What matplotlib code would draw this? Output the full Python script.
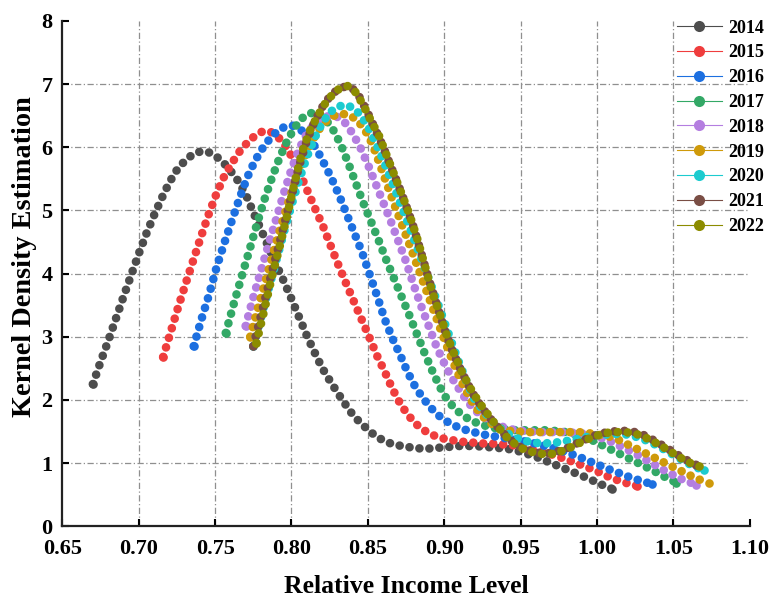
import numpy as np
import matplotlib
matplotlib.use("Agg")
import matplotlib.pyplot as plt
from matplotlib.lines import Line2D

plt.rcParams['font.family'] = ['Liberation Serif', 'DejaVu Serif']
plt.rcParams['font.weight'] = 'bold'

years = ["2014", "2015", "2016", "2017", "2018", "2019", "2020", "2021", "2022"]
colors = ["#4d4d4d", "#ef3d3d", "#1c6fe0", "#33a866", "#b47ee0",
          "#cf9a0a", "#1ccbcf", "#7a4e45", "#8c8c00"]
step = 0.005

x0_2014 = 0.670
kde_2014 = [2.25, 2.60, 2.93, 3.28, 3.63, 3.97, 4.31, 4.63, 4.92, 5.19, 5.44, 5.64,
            5.78, 5.88, 5.93, 5.93, 5.87, 5.77, 5.63, 5.47, 5.26, 4.97, 4.70, 4.42,
            4.14, 3.88, 3.60, 3.31, 3.02, 2.76, 2.51, 2.31, 2.12, 1.94, 1.77, 1.64,
            1.53, 1.43, 1.36, 1.31, 1.28, 1.26, 1.24, 1.23, 1.23, 1.24, 1.25, 1.26,
            1.27, 1.27, 1.27, 1.26, 1.25, 1.24, 1.23, 1.21, 1.18, 1.14, 1.10, 1.05,
            1.00, 0.95, 0.90, 0.85, 0.80, 0.75, 0.69, 0.64, 0.59]

x0_2015 = 0.716
kde_2015 = [2.68, 3.08, 3.48, 3.86, 4.23, 4.60, 4.95, 5.27, 5.54, 5.75, 5.93, 6.07,
            6.18, 6.25, 6.25, 6.17, 6.02, 5.82, 5.56, 5.28, 5.00, 4.73, 4.42, 4.12,
            3.83, 3.55, 3.27, 2.99, 2.70, 2.45, 2.18, 1.95, 1.77, 1.63, 1.53, 1.46,
            1.41, 1.38, 1.36, 1.34, 1.33, 1.32, 1.31, 1.31, 1.30, 1.29, 1.28, 1.26,
            1.23, 1.20, 1.17, 1.13, 1.09, 1.05, 1.00, 0.96, 0.91, 0.86, 0.80, 0.75,
            0.71, 0.67, 0.64]

x0_2016 = 0.736
kde_2016 = [2.85, 3.27, 3.66, 4.10, 4.48, 4.84, 5.19, 5.52, 5.78, 5.98, 6.14, 6.26,
            6.33, 6.34, 6.28, 6.16, 5.99, 5.76, 5.52, 5.25, 4.95, 4.65, 4.35, 4.00,
            3.65, 3.28, 2.98, 2.72, 2.44, 2.21, 2.03, 1.88, 1.76, 1.67, 1.60, 1.55,
            1.51, 1.48, 1.45, 1.43, 1.41, 1.39, 1.37, 1.35, 1.33, 1.30, 1.27, 1.24,
            1.20, 1.16, 1.12, 1.07, 1.02, 0.97, 0.92, 0.87, 0.83, 0.78, 0.74, 0.70,
            0.67]

x0_2017 = 0.757
kde_2017 = [3.06, 3.50, 3.92, 4.33, 4.75, 5.15, 5.50, 5.82, 6.09, 6.31, 6.46, 6.54,
            6.54, 6.45, 6.29, 6.06, 5.76, 5.44, 5.12, 4.83, 4.53, 4.22, 3.93, 3.64,
            3.35, 3.05, 2.75, 2.47, 2.21, 2.00, 1.86, 1.76, 1.68, 1.63, 1.59, 1.56,
            1.54, 1.53, 1.52, 1.52, 1.52, 1.52, 1.52, 1.51, 1.50, 1.48, 1.45, 1.41,
            1.36, 1.30, 1.24, 1.18, 1.12, 1.06, 1.00, 0.94, 0.88, 0.81, 0.75, 0.69]

x0_2018 = 0.770
kde_2018 = [3.17, 3.62, 4.04, 4.46, 4.86, 5.27, 5.65, 5.97, 6.21, 6.37, 6.46, 6.50,
            6.48, 6.39, 6.22, 6.00, 5.73, 5.43, 5.13, 4.83, 4.51, 4.19, 3.82, 3.48,
            3.16, 2.84, 2.58, 2.35, 2.16, 1.98, 1.84, 1.74, 1.66, 1.60, 1.56, 1.53,
            1.51, 1.50, 1.49, 1.49, 1.49, 1.49, 1.49, 1.48, 1.47, 1.45, 1.42, 1.38,
            1.33, 1.27, 1.21, 1.15, 1.08, 1.01, 0.94, 0.87, 0.81, 0.75, 0.70, 0.66]

x0_2019 = 0.773
kde_2019 = [3.00, 3.45, 3.88, 4.32, 4.74, 5.13, 5.50, 5.82, 6.08, 6.28, 6.42, 6.50,
            6.53, 6.51, 6.43, 6.28, 6.05, 5.72, 5.38, 5.05, 4.73, 4.41, 4.08, 3.75,
            3.42, 3.09, 2.77, 2.47, 2.20, 1.98, 1.80, 1.67, 1.59, 1.54, 1.51, 1.50,
            1.49, 1.49, 1.49, 1.49, 1.49, 1.49, 1.49, 1.49, 1.48, 1.46, 1.44, 1.42,
            1.38, 1.32, 1.26, 1.20, 1.14, 1.08, 1.02, 0.96, 0.90, 0.84, 0.78, 0.73,
            0.68]

x0_2020 = 0.775
kde_2020 = [2.85, 3.30, 3.75, 4.20, 4.65, 5.08, 5.48, 5.84, 6.14, 6.38, 6.55, 6.64,
            6.67, 6.63, 6.52, 6.33, 6.08, 5.80, 5.50, 5.19, 4.88, 4.56, 4.24, 3.91,
            3.58, 3.24, 2.90, 2.57, 2.27, 2.00, 1.85, 1.70, 1.58, 1.49, 1.42, 1.37,
            1.34, 1.32, 1.31, 1.32, 1.33, 1.35, 1.37, 1.40, 1.42, 1.44, 1.45, 1.46,
            1.46, 1.45, 1.42, 1.38, 1.33, 1.27, 1.20, 1.13, 1.06, 0.99, 0.93, 0.89]

x0_2021 = 0.775
kde_2021 = [2.85, 3.33, 3.82, 4.28, 4.75, 5.22, 5.70, 6.10, 6.40, 6.63, 6.80, 6.91,
            6.96, 6.93, 6.78, 6.54, 6.28, 6.01, 5.70, 5.40, 5.08, 4.73, 4.32, 3.90,
            3.52, 3.13, 2.80, 2.52, 2.27, 2.05, 1.87, 1.71, 1.57, 1.44, 1.33, 1.25,
            1.20, 1.17, 1.15, 1.16, 1.19, 1.23, 1.29, 1.35, 1.40, 1.45, 1.48, 1.50,
            1.51, 1.51, 1.49, 1.45, 1.39, 1.32, 1.25, 1.17, 1.10, 1.03, 0.97]

x0_2022 = 0.777
kde_2022 = [2.90, 3.40, 3.93, 4.40, 4.90, 5.43, 5.93, 6.26, 6.49, 6.69, 6.84, 6.94,
            6.97, 6.87, 6.67, 6.42, 6.20, 5.89, 5.58, 5.27, 4.95, 4.58, 4.15, 3.72,
            3.37, 3.00, 2.70, 2.42, 2.19, 1.99, 1.82, 1.66, 1.52, 1.38, 1.29, 1.22,
            1.18, 1.15, 1.14, 1.15, 1.19, 1.24, 1.30, 1.36, 1.41, 1.45, 1.48, 1.49,
            1.49, 1.48, 1.45, 1.40, 1.34, 1.27, 1.20, 1.12, 1.05, 0.99, 0.95]

starts = [x0_2014, x0_2015, x0_2016, x0_2017, x0_2018, x0_2019, x0_2020, x0_2021, x0_2022]
series = [kde_2014, kde_2015, kde_2016, kde_2017, kde_2018, kde_2019, kde_2020, kde_2021, kde_2022]

xticks = [0.65, 0.70, 0.75, 0.80, 0.85, 0.90, 0.95, 1.00, 1.05, 1.10]
yticks = [0, 1, 2, 3, 4, 5, 6, 7, 8]

fig = plt.figure(figsize=(7.69, 5.98), dpi=100)
ax = fig.add_axes([0.081, 0.120, 0.894, 0.845])
ax.set_xlim(0.65, 1.10)
ax.set_ylim(0, 8)

for xv in xticks[1:-1]:
    ax.axvline(xv, color="#8f8f8f", lw=0.9, ls=(0, (5, 2, 1, 2)), zorder=0)
for yv in yticks[1:-1]:
    ax.axhline(yv, color="#8f8f8f", lw=0.9, ls=(0, (5, 2, 1, 2)), zorder=0)

handles = []
for yr, c, x0, ys in zip(years, colors, starts, series):
    ys = np.array(ys)
    xs = x0 + step * np.arange(len(ys))
    ax.plot(xs, ys, color=c, lw=6.2, ls=(0, (0.01, 1.15)),
            dash_capstyle='round', zorder=2)
    ax.plot(xs, ys, ls='none', marker='o', ms=6.2, mew=0, color=c,
            markevery=[0, len(ys) - 1], zorder=2)
    handles.append(Line2D([0], [0], color=c, lw=0.8, marker='o', ms=8,
                          mew=0, markerfacecolor=c, label=yr))

for s in ['top', 'right']:
    ax.spines[s].set_visible(False)
for s in ['left', 'bottom']:
    ax.spines[s].set_linewidth(1.6)
    ax.spines[s].set_color('#222222')

ax.set_xticks(xticks)
ax.set_xticklabels([f"{v:.2f}" for v in xticks])
ax.set_yticks(yticks)
ax.set_yticklabels([str(v) for v in yticks])
ax.tick_params(direction='in', length=5, width=1.5, labelsize=16)
ax.tick_params(axis='x', pad=9)
ax.tick_params(axis='y', pad=7)
for lab in ax.get_xticklabels() + ax.get_yticklabels():
    lab.set_fontweight('bold')

ax.set_xlabel("Relative Income Level", fontsize=18.5, fontweight='bold', labelpad=12)
ax.set_ylabel("Kernel Density Estimation", fontsize=20.3, fontweight='bold', labelpad=3)
ax.yaxis.label.set_y(0.534)

leg = fig.legend(handles=handles, loc='upper left', bbox_to_anchor=(0.880, 0.967),
                 frameon=False, fontsize=13, handlelength=2.5, handletextpad=0.35,
                 labelspacing=0.43, borderpad=0, borderaxespad=0)
for t in leg.get_texts():
    t.set_fontweight('bold')

fig.savefig("out.png", dpi=100)
